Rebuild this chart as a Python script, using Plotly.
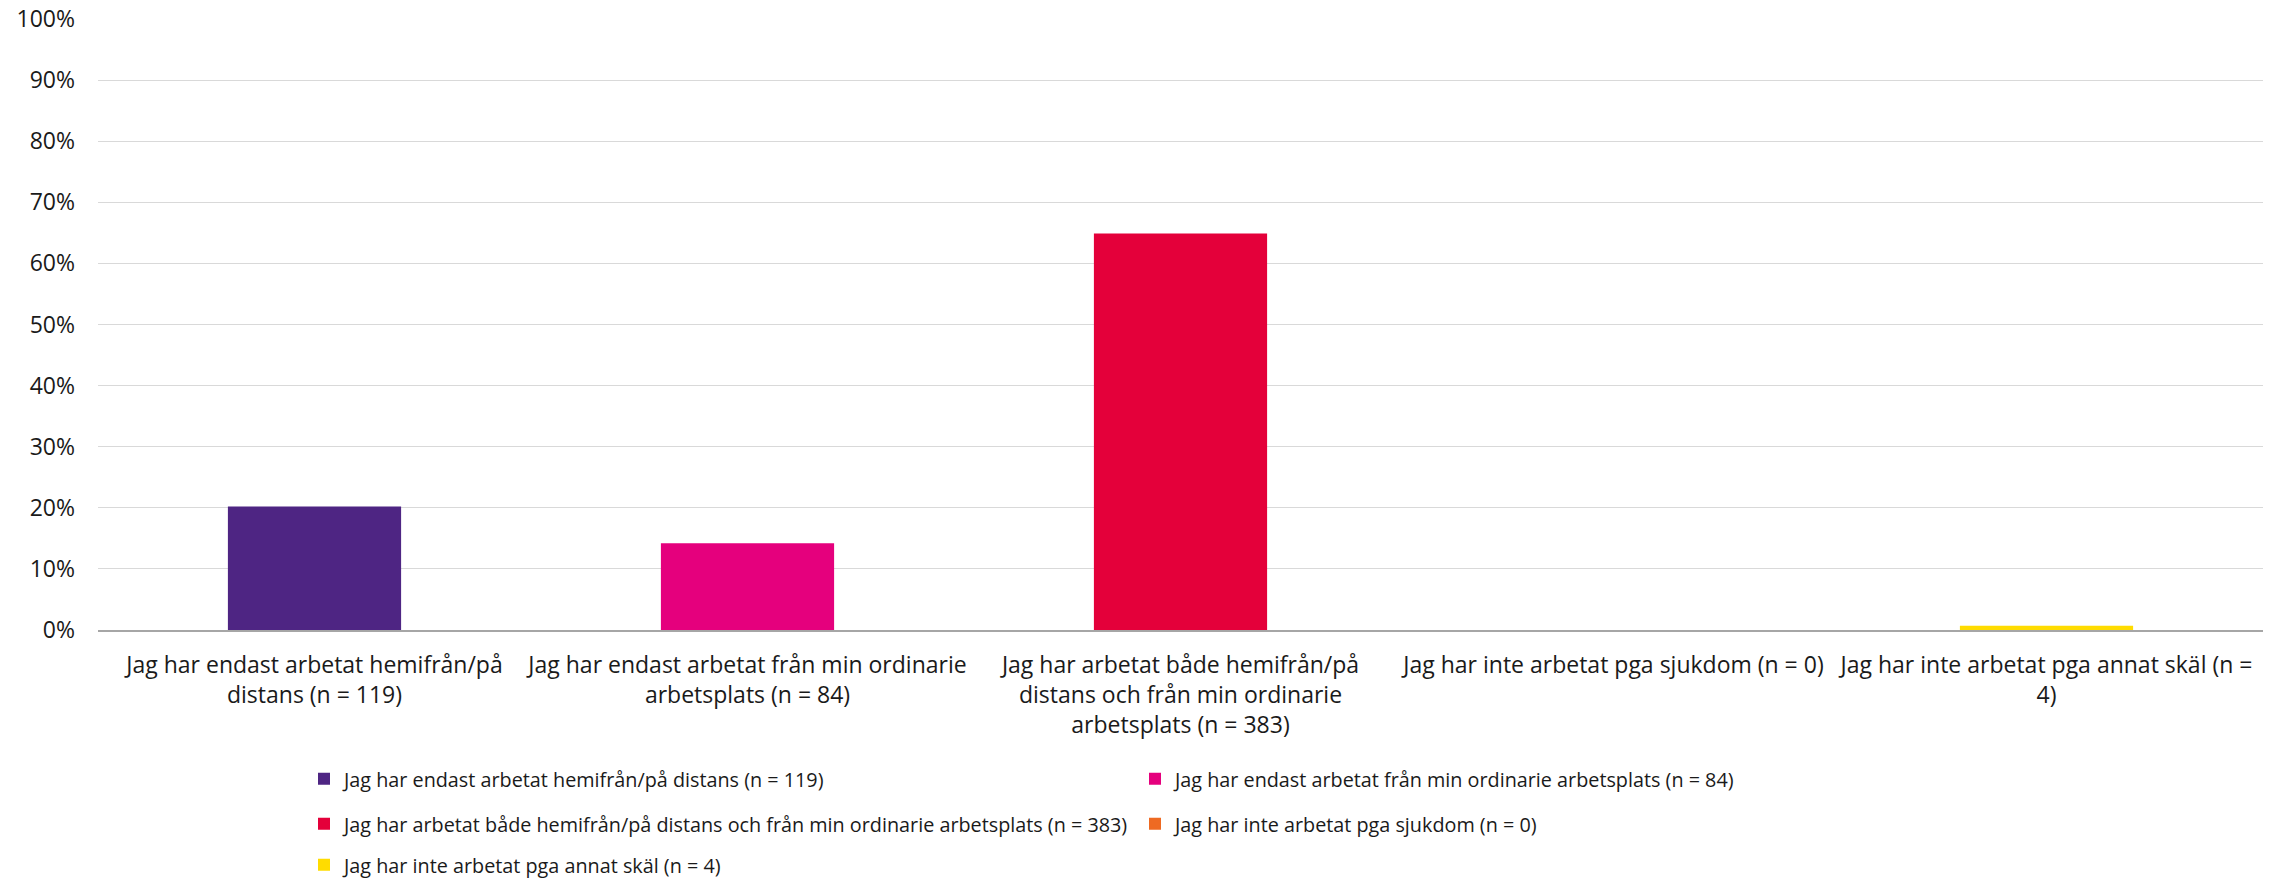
import plotly.graph_objects as go

categories = [
    "Jag har endast arbetat hemifrån/på<br>distans (n = 119)",
    "Jag har endast arbetat från min ordinarie<br>arbetsplats (n = 84)",
    "Jag har arbetat både hemifrån/på<br>distans och från min ordinarie<br>arbetsplats (n = 383)",
    "Jag har inte arbetat pga sjukdom (n = 0)",
    "Jag har inte arbetat pga annat skäl (n =<br>4)",
]
series_names = [
    "Jag har endast arbetat hemifrån/på distans (n = 119)",
    "Jag har endast arbetat från min ordinarie arbetsplats (n = 84)",
    "Jag har arbetat både hemifrån/på distans och från min ordinarie arbetsplats (n = 383)",
    "Jag har inte arbetat pga sjukdom (n = 0)",
    "Jag har inte arbetat pga annat skäl (n = 4)",
]
values = [20.2, 14.2, 64.9, 0.0, 0.7]
colors = ["#4E2583", "#E5007D", "#E4003A", "#EE6A22", "#FFDC00"]
legend_ids = ["legend", "legend", "legend2", "legend2", "legend3"]
y_ticks = [0, 10, 20, 30, 40, 50, 60, 70, 80, 90, 100]
y_ticktext = [f"{v}%" for v in y_ticks]

FONT = "Open Sans"
TEXT = "#1A1A1A"
W, H = 2277, 882

fig = go.Figure()
for cat, name, val, col, lg in zip(categories, series_names, values, colors, legend_ids):
    fig.add_trace(go.Bar(
        x=[cat], y=[val], name=name, marker=dict(color=col, line=dict(width=0)),
        width=0.4, legend=lg, hoverinfo="skip",
    ))

legend_common = dict(
    orientation="h", xanchor="left", yanchor="middle",
    xref="container", yref="container", x=304 / W,
    entrywidth=786, entrywidthmode="pixels",
    font=dict(family=FONT, size=19.8, color=TEXT),
    bgcolor="rgba(0,0,0,0)", itemclick=False, itemdoubleclick=False,
)

fig.update_layout(
    width=W, height=H,
    margin=dict(l=98, r=14, t=19, b=252),
    paper_bgcolor="white", plot_bgcolor="white",
    barmode="overlay",
    font=dict(family=FONT, size=23, color=TEXT),
    showlegend=True,
    legend=dict(**legend_common, y=1 - 779 / H),
    legend2=dict(**legend_common, y=1 - 824 / H),
    legend3=dict(**legend_common, y=1 - 865 / H),
    xaxis=dict(
        type="category", categoryorder="array", categoryarray=categories,
        showgrid=False, showline=True, linecolor="#A6A6A6", linewidth=1.5,
        ticks="", ticklabelstandoff=14,
        tickfont=dict(family=FONT, size=23, color=TEXT),
        fixedrange=True, automargin=False,
    ),
    yaxis=dict(
        range=[0, 100], tickvals=y_ticks, ticktext=y_ticktext,
        showgrid=True, gridcolor="#D9D9D9", gridwidth=1,
        zeroline=False, showline=False, ticks="",
        ticklabelstandoff=22,
        tickfont=dict(family=FONT, size=23, color=TEXT),
        fixedrange=True, automargin=False,
    ),
)

fig.write_html(
    "out.html",
    config={"displayModeBar": False, "staticPlot": False},
    post_script="document.body.style.margin='0px';",
)
